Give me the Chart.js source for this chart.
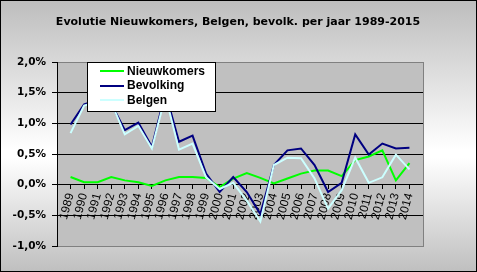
<!DOCTYPE html>
<html>
<head>
<meta charset="utf-8">
<script src="https://cdn.jsdelivr.net/npm/chart.js@4.4.1/dist/chart.umd.min.js"></script>
<style>
  html, body { margin: 0; padding: 0; background: #fff; }
  #wrap {
    position: relative; width: 477px; height: 272px;
    background: linear-gradient(to bottom, #bdbdbd 0%, #ffffff 55%, #ffffff 58%, #bfbfbf 100%);
  }
  canvas { position: absolute; left: 0; top: 0; }
</style>
</head>
<body>
<div id="wrap"><canvas id="c" width="477" height="272"></canvas></div>
<script>
// ---- data (percent per year) ----
const titleText = 'Evolutie Nieuwkomers, Belgen, bevolk. per jaar 1989-2015';
const years = ['1989','1990','1991','1992','1993','1994','1995','1996','1997','1998','1999','2000','2001',
               '2002','2003','2004','2005','2006','2007','2008','2009','2010','2011','2012','2013','2014'];
const seriesNames = ['Nieuwkomers', 'Bevolking', 'Belgen'];
const nieuwkomers = [0.125,0.04,0.04,0.125,0.07,0.04,-0.02,0.07,0.125,0.125,0.11,-0.04,0.10,
                     0.19,0.11,0.02,0.10,0.18,0.23,0.23,0.14,0.40,0.46,0.56,0.07,0.35];
const bevolking   = [0.98,1.31,1.38,1.32,0.89,1.01,0.62,1.50,0.70,0.80,0.18,-0.12,0.125,
                     -0.12,-0.48,0.32,0.56,0.59,0.32,-0.12,0.03,0.82,0.49,0.67,0.59,0.60];
const belgen      = [0.84,1.29,1.35,1.34,0.82,0.96,0.59,1.45,0.57,0.67,0.12,-0.07,0.03,
                     -0.26,-0.60,0.32,0.44,0.43,0.10,-0.39,-0.09,0.44,0.03,0.12,0.49,0.25];
const yTicks = [-1.0, -0.5, 0.0, 0.5, 1.0, 1.5, 2.0];

// axis has one empty slot before the first year and after the last
const labels = [''].concat(years, ['']);
const pad = arr => [null].concat(arr, [null]);
const colors = ['#00ff00', '#000080', '#ccffff'];

const bgPlugin = {
  id: 'bg',
  beforeDraw(chart) {
    const {ctx, chartArea: a} = chart;
    ctx.save();
    ctx.fillStyle = '#c0c0c0';
    ctx.fillRect(a.left, a.top, a.right - a.left, a.bottom - a.top);
    ctx.restore();
  },
  beforeDatasetsDraw(chart) {
    const {ctx, chartArea: a} = chart;
    ctx.save();
    ctx.strokeStyle = '#808080';
    ctx.lineWidth = 1;
    ctx.beginPath();
    ctx.moveTo(Math.round(a.right) + 0.5, a.top);
    ctx.lineTo(Math.round(a.right) + 0.5, a.bottom + 1);
    ctx.stroke();
    ctx.restore();
  },
  afterDraw(chart) {
    const ctx = chart.ctx;
    ctx.save();
    // title
    ctx.fillStyle = '#000';
    ctx.font = 'bold 11px "DejaVu Sans"';
    ctx.textAlign = 'center';
    ctx.textBaseline = 'alphabetic';
    ctx.fillText(titleText, 238, 25);
    // legend box
    const lx = 87, ly = 62, lw = 128, lh = 49;
    ctx.fillStyle = '#fff';
    ctx.fillRect(lx, ly, lw, lh);
    ctx.strokeStyle = '#000';
    ctx.lineWidth = 1;
    ctx.strokeRect(lx + 0.5, ly + 0.5, lw, lh);
    ctx.font = 'bold 12px "Liberation Sans"';
    ctx.textAlign = 'left';
    ctx.textBaseline = 'middle';
    chart.data.datasets.forEach((ds, i) => {
      const y = 71 + i * 14.5;
      ctx.strokeStyle = ds.borderColor;
      ctx.lineWidth = 2;
      ctx.beginPath();
      ctx.moveTo(100, Math.round(y));
      ctx.lineTo(124, Math.round(y));
      ctx.stroke();
      ctx.fillStyle = '#000';
      ctx.fillText(ds.label, 127, y + 0.5);
    });
    // outer frame
    ctx.strokeStyle = '#000';
    ctx.lineWidth = 1;
    ctx.strokeRect(0.5, 0.5, 476, 271);
    ctx.restore();
  }
};

new Chart(document.getElementById('c'), {
  type: 'line',
  data: {
    labels: labels,
    datasets: [
      { label: seriesNames[0], data: pad(nieuwkomers), borderColor: colors[0], order: 3 },
      { label: seriesNames[1], data: pad(bevolking),   borderColor: colors[1], order: 2 },
      { label: seriesNames[2], data: pad(belgen),      borderColor: colors[2], order: 1 }
    ].map(d => Object.assign(d, { borderWidth: 2, pointRadius: 0, tension: 0, fill: false, spanGaps: false }))
  },
  options: {
    responsive: false,
    animation: false,
    devicePixelRatio: 1,
    layout: { padding: { top: 62, right: 54, bottom: 26, left: 0 } },
    plugins: { legend: { display: false }, title: { display: false }, tooltip: { enabled: false } },
    scales: {
      x: {
        type: 'category',
        offset: false,
        position: { y: 0 },
        grid: { drawOnChartArea: false, color: '#000', tickLength: 4, lineWidth: 1 },
        border: { color: '#000', width: 1 },
        ticks: {
          autoSkip: false, minRotation: 75, maxRotation: 75, padding: 3,
          color: '#000', font: { family: '"Liberation Sans"', size: 12 }
        }
      },
      y: {
        min: -1, max: 2,
        afterBuildTicks(scale) { scale.ticks = yTicks.map(v => ({ value: v })); },
        afterFit(scale) { scale.width = 57; },
        grid: {
          color: ctx => (ctx.tick && (ctx.tick.value === 2 || ctx.tick.value === -1)) ? '#808080' : '#000',
          tickColor: '#000', tickLength: 5, lineWidth: 1
        },
        border: { color: '#000', width: 1 },
        ticks: {
          padding: 6, color: '#000',
          font: { family: '"DejaVu Sans"', size: 10.5, weight: 'bold' },
          callback: v => v.toFixed(1).replace('.', ',') + '%'
        }
      }
    }
  },
  plugins: [bgPlugin]
});
</script>
</body>
</html>
